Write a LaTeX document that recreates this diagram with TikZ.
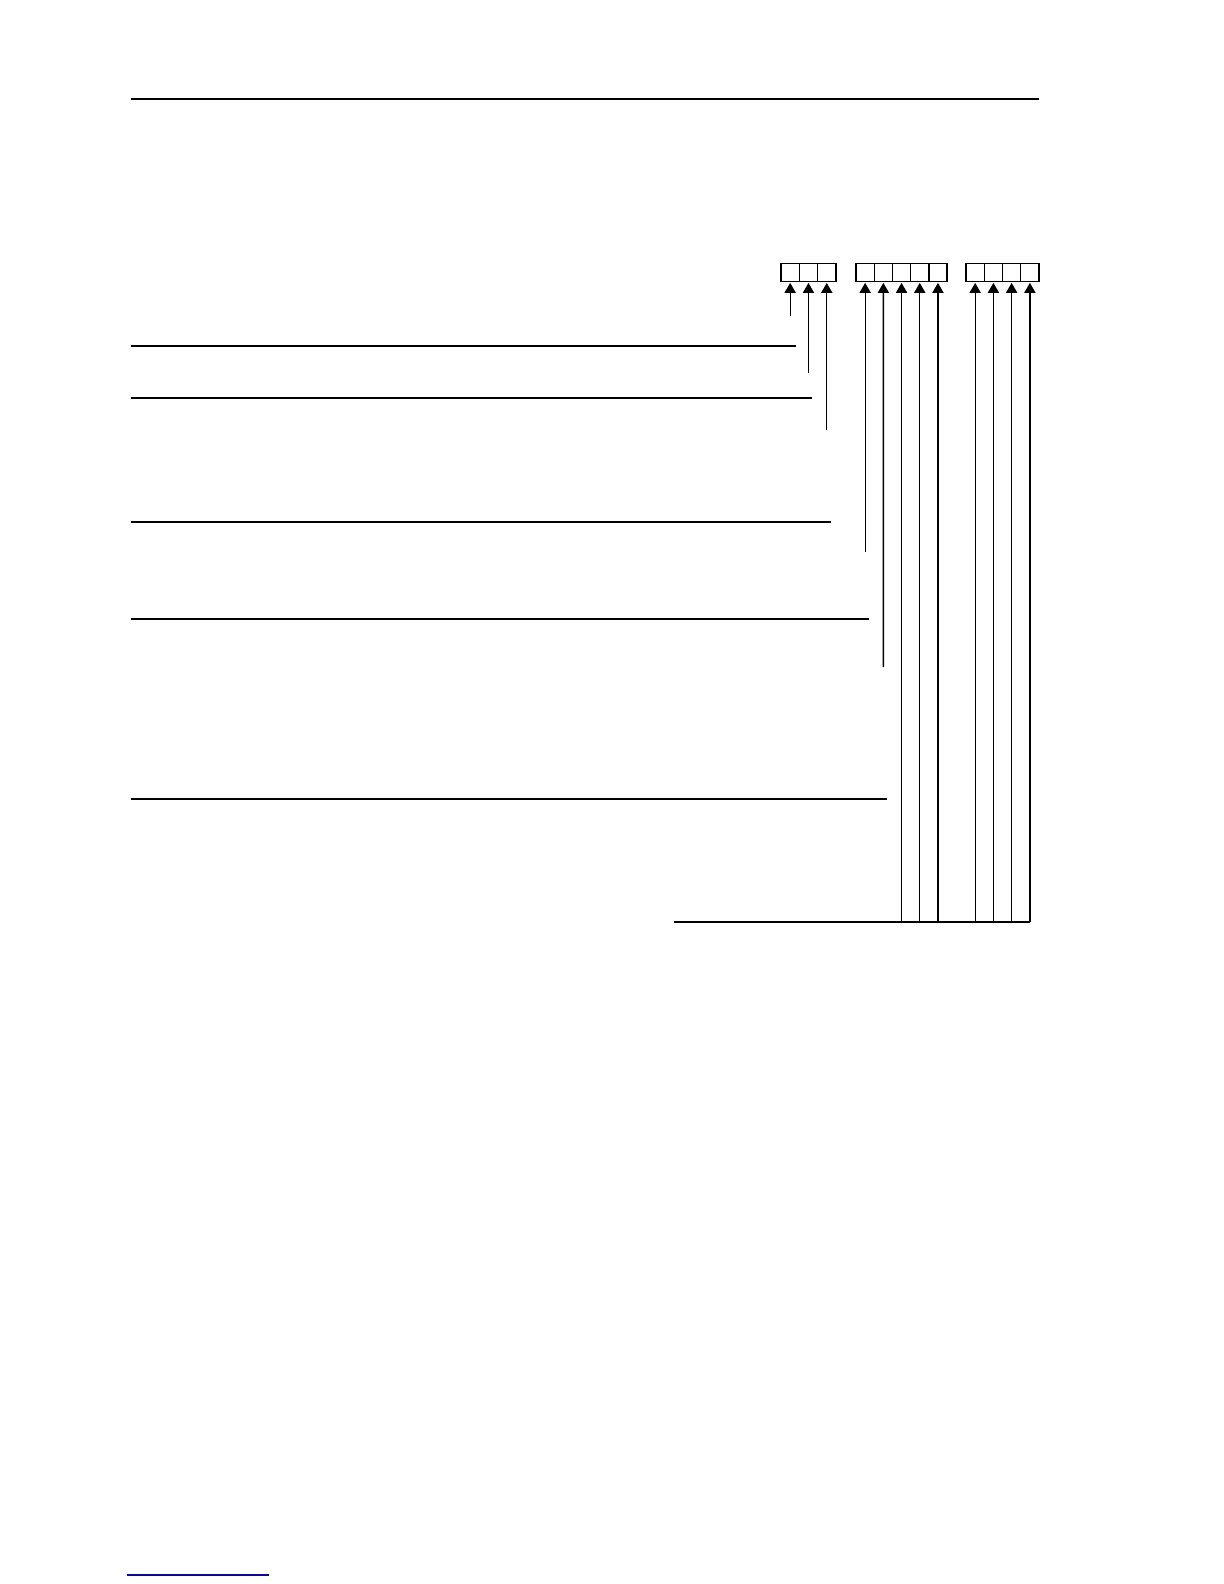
\documentclass[tikz,border=0pt]{standalone}
\usetikzlibrary{arrows.meta}
\definecolor{linkblue}{RGB}{10,10,140}
\begin{document}
\begin{tikzpicture}[x=0.5pt,y=-0.5pt,
  cell/.style={draw,line width=0.65pt,inner sep=0pt,outer sep=0pt,minimum width=9.15pt,minimum height=8.9pt,anchor=north west},
  rule/.style={line width=0.65pt},
  feed/.style={line width=0.65pt,shorten >=0.8pt,-{Triangle[length=5pt,width=5.6pt]}}]
\useasboundingbox (0,0) rectangle (1224,1584);
% top rule
\draw[rule] (131,99) -- (1039,99);
% cells
\node[cell] (c11) at (781,263.5) {};
\node[cell] (c12) at (799.3,263.5) {};
\node[cell] (c13) at (817.6,263.5) {};
\node[cell] (c21) at (856,263.5) {};
\node[cell] (c22) at (874.2,263.5) {};
\node[cell] (c23) at (892.4,263.5) {};
\node[cell] (c24) at (910.6,263.5) {};
\node[cell] (c25) at (928.8,263.5) {};
\node[cell] (c31) at (966,263.5) {};
\node[cell] (c32) at (984.25,263.5) {};
\node[cell] (c33) at (1002.5,263.5) {};
\node[cell] (c34) at (1020.75,263.5) {};
% arrow feet
\coordinate (f11) at (790.15,316);
\coordinate (f12) at (808.45,373);
\coordinate (f13) at (826.75,430);
\coordinate (f21) at (865.15,552);
\coordinate (f22) at (883.35,667);
\coordinate (f23) at (901.55,922);
\coordinate (f24) at (919.75,922);
\coordinate (f25) at (937.95,922);
\coordinate (f31) at (975.15,922);
\coordinate (f32) at (993.4,922);
\coordinate (f33) at (1011.65,922);
\coordinate (f34) at (1029.9,922);
\foreach \n in {11,12,13,21,22,23,24,25,31,32,33,34}
  \draw[feed] (f\n) -- (c\n.south);
% horizontal rules
\draw[rule] (131,346) -- (796,346);
\draw[rule] (131,398) -- (812,398);
\draw[rule] (131,522) -- (831,522);
\draw[rule] (131,619) -- (869,619);
\draw[rule] (131,799) -- (887,799);
\coordinate (b0) at (674,922);
\draw[rule] (b0) -- (f34);
% footnote rule
\draw[linkblue,line width=0.75pt] (127,1575) -- (269,1575);
\end{tikzpicture}
\end{document}
